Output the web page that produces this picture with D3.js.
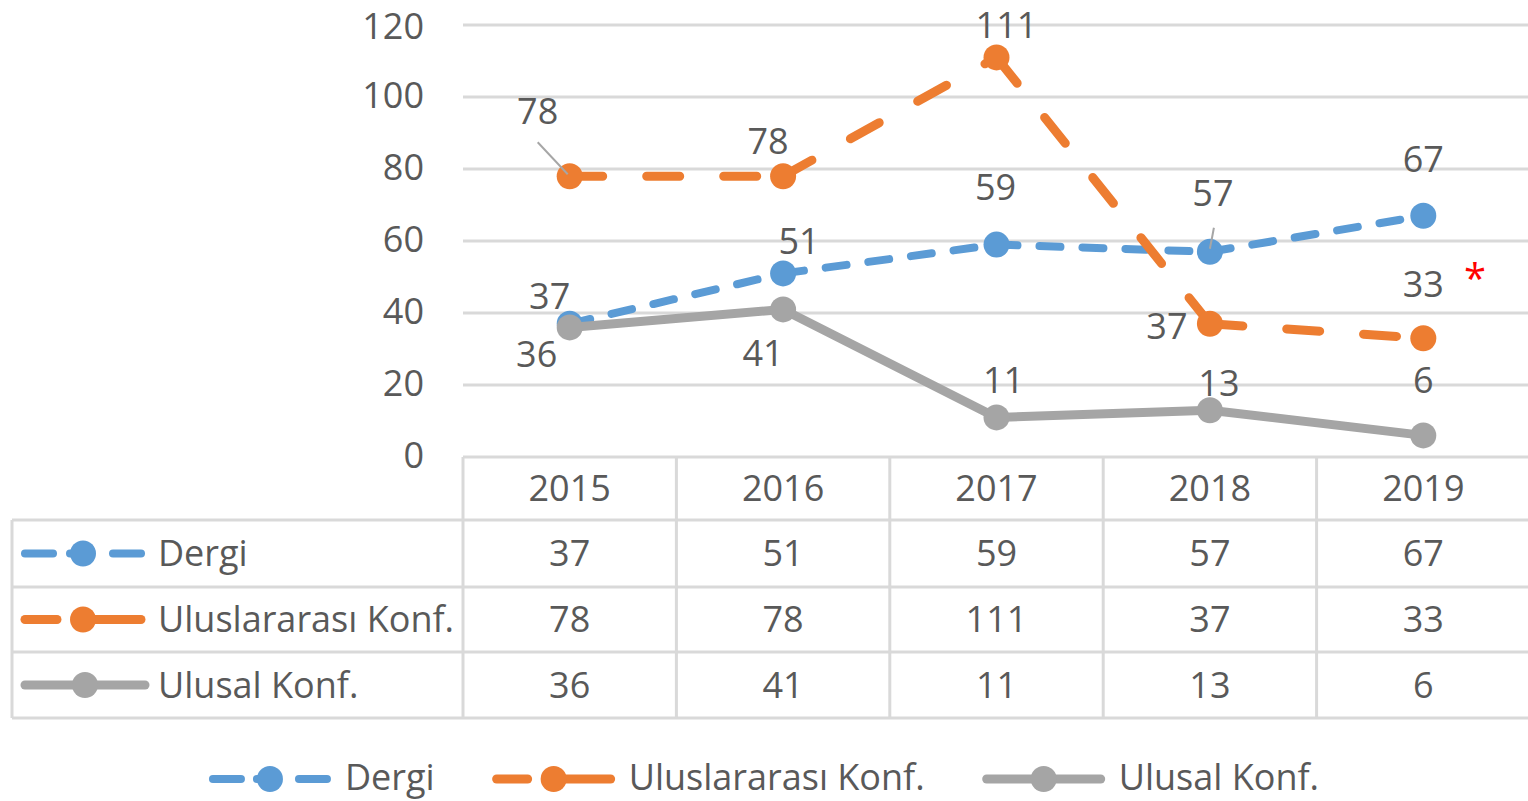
<!DOCTYPE html>
<html>
<head>
<meta charset="utf-8">
<script src="https://cdn.jsdelivr.net/npm/d3@7/dist/d3.min.js"></script>
<style>
  html, body { margin: 0; padding: 0; background: #ffffff; }
  svg { display: block; }
  text { font-family: "Open Sans", "Liberation Sans", sans-serif; fill: #595959; }
</style>
</head>
<body>
<svg id="chart" width="1528" height="801"></svg>
<script>
// ---------- data ----------
const years = ["2015", "2016", "2017", "2018", "2019"];
const seriesNames = ["Dergi", "Uluslararası Konf.", "Ulusal Konf."];
const dergi = [37, 51, 59, 57, 67];
const uluslararasi = [78, 78, 111, 37, 33];
const ulusal = [36, 41, 11, 13, 6];
const yTicks = [0, 20, 40, 60, 80, 100, 120];

// ---------- styling / layout (not data) ----------
const colors = ["#5B9BD5", "#ED7D31", "#A5A5A5"];
const dashes = ["21,22", "33,44", null];
const widths = [8, 9, 9];
// manual label offsets (dx, dy) relative to each point, per series
const labelOffsets = [
  [[-20, -27], [16, -32], [-1, -57], [3, -58], [0, -56]],
  [[-32, -65], [-15, -35], [10, -32], [-43, 3], [0, -54]],
  [[-33, 27], [-20, 44], [7, -37], [9, -27], [0, -55]]
];
const leaders = [
  { s: 1, i: 0, from: [-32, -34], to: [-2, -2] },
  { s: 0, i: 3, from: [4, -24], to: [0, -3] }
];

const series = [dergi, uluslararasi, ulusal];
const W = 1528, H = 801;
const plotLeft = 463, plotRight = 1530;
const tableLeft = 12;
const rowEdges = [457, 520, 587, 652, 718];
const fontSize = 36;
const markerR = 13;

const svg = d3.select("#chart");

const x = d3.scaleBand().domain(years).range([plotLeft, plotRight]).padding(0);
const xc = d => x(d) + x.bandwidth() / 2;
const y = d3.scaleLinear().domain([0, 120]).range([457, 25]);

// gridlines
svg.append("g").selectAll("line")
  .data(yTicks.filter(t => t > 0))
  .join("line")
  .attr("x1", plotLeft).attr("x2", W)
  .attr("y1", d => y(d)).attr("y2", d => y(d))
  .attr("stroke", "#d9d9d9").attr("stroke-width", 3);

// y tick labels via axis
const yAxis = svg.append("g")
  .attr("transform", `translate(${plotLeft - 39},0)`)
  .call(d3.axisLeft(y).tickValues(yTicks).tickSize(0).tickPadding(0));
yAxis.select(".domain").remove();
yAxis.selectAll("text")
  .attr("font-size", fontSize)
  .attr("font-family", "'Open Sans', 'Liberation Sans', sans-serif")
  .attr("fill", "#595959")
  .attr("dy", "0.35em")
  .attr("y", d => d === 120 ? 1 : -2);

// ---------- data table ----------
const tbl = svg.append("g");
const tableStroke = "#d9d9d9";
tbl.append("line").attr("x1", plotLeft).attr("x2", W)
  .attr("y1", rowEdges[0]).attr("y2", rowEdges[0])
  .attr("stroke", tableStroke).attr("stroke-width", 3);
tbl.selectAll("line.h").data(rowEdges.slice(1)).join("line").attr("class", "h")
  .attr("x1", tableLeft).attr("x2", W)
  .attr("y1", d => d).attr("y2", d => d)
  .attr("stroke", tableStroke).attr("stroke-width", 3);
tbl.selectAll("line.v").data(years).join("line").attr("class", "v")
  .attr("x1", d => x(d)).attr("x2", d => x(d))
  .attr("y1", rowEdges[0]).attr("y2", rowEdges[4])
  .attr("stroke", tableStroke).attr("stroke-width", 3);
tbl.append("line").attr("x1", tableLeft).attr("x2", tableLeft)
  .attr("y1", rowEdges[1]).attr("y2", rowEdges[4])
  .attr("stroke", tableStroke).attr("stroke-width", 3);

tbl.selectAll("text.yr").data(years).join("text").attr("class", "yr")
  .attr("x", d => xc(d)).attr("y", (rowEdges[0] + rowEdges[1]) / 2)
  .attr("dy", "0.35em").attr("text-anchor", "middle")
  .attr("font-size", fontSize).text(d => d);

function symbol(g, s, x0, len, cy) {
  const lineG = g.append("g");
  const mid = x0 + len / 2;
  if (s === 0) {
    lineG.append("line").attr("x1", x0 + 4).attr("x2", x0 + 32).attr("y1", cy).attr("y2", cy);
    lineG.append("line").attr("x1", mid - 13).attr("x2", mid + 4).attr("y1", cy).attr("y2", cy);
    lineG.append("line").attr("x1", x0 + len - 32).attr("x2", x0 + len - 4).attr("y1", cy).attr("y2", cy);
  } else if (s === 1) {
    lineG.append("line").attr("x1", x0 + 4).attr("x2", mid - 26).attr("y1", cy).attr("y2", cy);
    lineG.append("line").attr("x1", mid - 4).attr("x2", x0 + len - 4).attr("y1", cy).attr("y2", cy);
  } else {
    lineG.append("line").attr("x1", x0 + 4).attr("x2", x0 + len - 4).attr("y1", cy).attr("y2", cy);
  }
  lineG.selectAll("line").attr("stroke", colors[s]).attr("stroke-width", widths[s])
    .attr("stroke-linecap", "round");
  g.append("circle").attr("cx", mid).attr("cy", cy).attr("r", markerR).attr("fill", colors[s]);
}

series.forEach((vals, s) => {
  const cy = (rowEdges[s + 1] + rowEdges[s + 2]) / 2;
  const rg = tbl.append("g");
  symbol(rg, s, 21, s === 2 ? 128 : 124, cy);
  rg.append("text").attr("x", 158).attr("y", cy).attr("dy", "0.35em")
    .attr("font-size", fontSize).text(seriesNames[s]);
  rg.selectAll("text.v").data(vals).join("text").attr("class", "v")
    .attr("x", (d, i) => xc(years[i])).attr("y", cy).attr("dy", "0.35em")
    .attr("text-anchor", "middle").attr("font-size", fontSize).text(d => d);
});

// ---------- lines ----------
const lineGen = d3.line().x(d => d[0]).y(d => d[1]);
series.forEach((vals, s) => {
  const g = svg.append("g");
  const pts = vals.map((v, i) => [xc(years[i]), y(v)]);
  for (let i = 0; i < pts.length - 1; i++) {
    g.append("path").attr("d", lineGen([pts[i], pts[i + 1]]))
      .attr("fill", "none").attr("stroke", colors[s]).attr("stroke-width", widths[s])
      .attr("stroke-linecap", "round").attr("stroke-linejoin", "round")
      .attr("stroke-dasharray", dashes[s]);
  }
  g.selectAll("circle").data(pts).join("circle")
    .attr("cx", d => d[0]).attr("cy", d => d[1]).attr("r", markerR).attr("fill", colors[s]);
});

leaders.forEach(l => {
  const px = xc(years[l.i]), py = y(series[l.s][l.i]);
  svg.append("line")
    .attr("x1", px + l.from[0]).attr("y1", py + l.from[1])
    .attr("x2", px + l.to[0]).attr("y2", py + l.to[1])
    .attr("stroke", "#a6a6a6").attr("stroke-width", 2);
});

series.forEach((vals, s) => {
  svg.append("g").selectAll("text").data(vals).join("text")
    .attr("x", (d, i) => xc(years[i]) + labelOffsets[s][i][0])
    .attr("y", (d, i) => y(d) + labelOffsets[s][i][1])
    .attr("dy", "0.35em").attr("text-anchor", "middle")
    .attr("font-size", fontSize).text(d => d);
});

svg.append("text").attr("x", 1475).attr("y", 293)
  .attr("text-anchor", "middle").attr("font-size", 40)
  .style("fill", "#ff0000").text("*");

// ---------- bottom legend ----------
const legY = 777;
const leg = svg.append("g");
const symLen = 122, symGap = 14, itemGap = 58;
const items = seriesNames.map((n, s) => {
  const ig = leg.append("g");
  const t = ig.append("text").attr("y", legY).attr("dy", "0.35em")
    .attr("font-size", fontSize).text(n);
  const tw = t.node().getComputedTextLength();
  return { ig, t, tw, s };
});
const total = items.reduce((a, it) => a + symLen + symGap + it.tw, 0) + itemGap * (items.length - 1);
let cx0 = W / 2 - total / 2;
items.forEach(it => {
  symbol(it.ig, it.s, cx0, symLen, legY + 2);
  it.t.attr("x", cx0 + symLen + symGap);
  cx0 += symLen + symGap + it.tw + itemGap;
});
</script>
</body>
</html>
